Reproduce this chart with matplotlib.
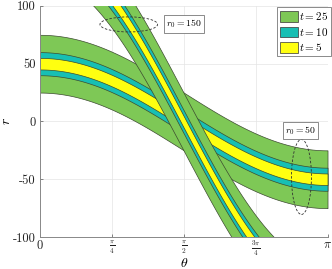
import numpy as np
import matplotlib
matplotlib.use("Agg")
import matplotlib.pyplot as plt
from matplotlib.patches import Ellipse, Patch

plt.rcParams['mathtext.fontset'] = 'cm'
plt.rcParams['font.family'] = 'cmr10'
plt.rcParams['axes.unicode_minus'] = False

# distancias de los dos puntos y semianchos de banda
r0_values = [50, 150]
t_values = [25, 10, 5]
t_colors = ['#7ec856', '#17bfb4', '#ffff10']
t_labels = ['$t = 25$', '$t = 10$', '$t = 5$']

x_ticks = [0, np.pi / 4, np.pi / 2, 3 * np.pi / 4, np.pi]
x_ticklabels = ['$0$', r'$\frac{\pi}{4}$', r'$\frac{\pi}{2}$', r'$\frac{3\pi}{4}$', r'$\pi$']
y_ticks = [-100, -50, 0, 50, 100]
y_ticklabels = ['-100', '-50', '0', '50', '100']

theta = np.linspace(0, np.pi, 600)

fig = plt.figure(figsize=(3.32, 2.69), dpi=100)
ax = fig.add_axes([0.1205, 0.119, 0.866, 0.859])

# una banda por cada punto, de la mas ancha a la mas estrecha
for r0 in r0_values:
    r = r0 * np.cos(theta)
    for t, c in zip(t_values, t_colors):
        ax.fill_between(theta, r - t, r + t, facecolor=c, edgecolor='#3c4a30', linewidth=0.5)

# elipses discontinuas y etiquetas
ax.add_patch(Ellipse((0.97, 84), 0.63, 13, fill=False, ls=(0, (3, 2)), lw=0.6, ec='#333333', zorder=5))
ax.add_patch(Ellipse((2.857, -48), 0.218, 65, fill=False, ls=(0, (3, 2)), lw=0.6, ec='#333333', zorder=5))
box = dict(boxstyle='square,pad=0.25', fc='white', ec='#777777', lw=0.6)
ax.text(1.576, 84.5, '$r_0 = 150$', fontsize=7, ha='center', va='center', bbox=box, zorder=6)
ax.text(2.847, -8, '$r_0 = 50$', fontsize=7, ha='center', va='center', bbox=box, zorder=6)

ax.set_xlim(0, np.pi)
ax.set_ylim(-100, 100)
ax.set_xticks(x_ticks)
ax.set_xticklabels(x_ticklabels, fontsize=7.5)
for lbl in (ax.get_xticklabels()[0], ax.get_xticklabels()[-1]):
    lbl.set_fontsize(9)
ax.set_yticks(y_ticks)
ax.set_yticklabels(y_ticklabels, fontsize=9)
ax.tick_params(direction='in', length=2, width=0.5, colors='#555555', labelcolor='#222222', pad=3)
ax.tick_params(axis='x', pad=1.5)
ax.grid(True, color='#e4e4e4', linewidth=0.5)
ax.set_axisbelow(True)
for s in ['top', 'right']:
    ax.spines[s].set_visible(False)
for s in ['left', 'bottom']:
    ax.spines[s].set_color('#888888')
    ax.spines[s].set_linewidth(0.7)

ax.set_xlabel(r'$\theta$', fontsize=10, va='center')
ax.xaxis.set_label_coords(0.5, -0.113)
ax.set_ylabel('$r$', fontsize=10, labelpad=0)

handles = [Patch(facecolor=c, edgecolor='#333333', linewidth=0.5) for c in t_colors]
leg = ax.legend(handles, t_labels, loc='upper right', bbox_to_anchor=(1.013, 0.995),
                fontsize=8, frameon=True, fancybox=False, borderaxespad=0,
                handlelength=1.6, handleheight=1.1, handletextpad=0.1,
                labelspacing=0.3, borderpad=0.3)
leg.get_frame().set_edgecolor('#555555')
leg.get_frame().set_linewidth(0.6)

fig.savefig("out.png", dpi=100)
